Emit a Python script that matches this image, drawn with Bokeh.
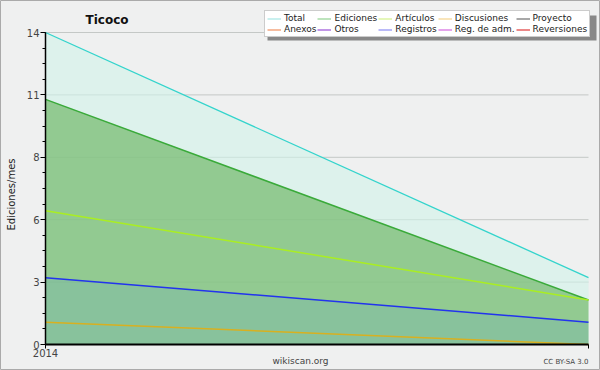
import math
import numpy as np
from bokeh.plotting import figure
from bokeh.models import (Range1d, FixedTicker, CustomJSTickFormatter, Label, Legend,
                          LegendItem, BoxAnnotation, ColumnDataSource)
from bokeh.embed import file_html
from bokeh.resources import INLINE

# ---- data ----
months = ["2014-01", "2014-02"]
total = [14, 3]
ediciones = [11, 2]
articulos = [6, 2]
registros = [3, 1]
discusiones = [1, 0]

y_ticks = [0, 2.8, 5.6, 8.4, 11.2, 14]
y_minor = [round(i * 0.7, 2) for i in range(21)]
x_tick_labels = {0: "2014", 1: ""}

legend_names = ["Total", "Ediciones", "Artículos", "Discusiones", "Proyecto",
                "Anexos", "Otros", "Registros", "Reg. de adm.", "Reversiones"]
legend_colors = ["#a6e6e4", "#92d292", "#d4f28c", "#f6d48e", "#6e6e6e",
                 "#f09060", "#9a50d8", "#8c8cf4", "#d468e0", "#e03a3a"]

# ---- layout (pixels of the 600x370 canvas) ----
W, H = 600, 370
PL, PR, PT, PB = 45, 588, 32, 344   # plot rectangle

x = list(range(len(months)))
y_max = max(total)
sx = (PR - PL) / (x[-1] - x[0])
sy = (PB - PT) / y_max
x_range = Range1d(x[0] - PL / sx, x[-1] + (W - PR) / sx)
y_range = Range1d(-(H - PB) / sy, y_max + PT / sy)

src = ColumnDataSource(dict(x=x, total=total, ediciones=ediciones, articulos=articulos,
                            registros=registros, discusiones=discusiones,
                            zero=[0] * len(x)))

p = figure(width=W, height=H, output_backend="svg", toolbar_location=None,
           x_range=x_range, y_range=y_range,
           min_border=0, min_border_left=0, min_border_right=0,
           min_border_top=0, min_border_bottom=0)
p.background_fill_color = "#eff0f0"
p.border_fill_color = "#eff0f0"
p.outline_line_color = "#aaaaaa"
p.outline_line_width = 1

p.xgrid.visible = False
p.ygrid.visible = False

# axes (positioned at the data origin)
p.yaxis.fixed_location = x[0]
p.yaxis.bounds = (0, y_max)
p.yaxis.ticker = FixedTicker(ticks=y_ticks, minor_ticks=y_minor)
p.yaxis.formatter = CustomJSTickFormatter(code="return Math.round(tick).toString()")
p.yaxis.axis_line_color = "black"
p.yaxis.axis_line_width = 1.5
p.yaxis.major_tick_line_color = "black"
p.yaxis.minor_tick_line_color = "black"
p.yaxis.major_tick_out = 5
p.yaxis.major_tick_in = 0
p.yaxis.minor_tick_out = 3
p.yaxis.minor_tick_in = 0
p.yaxis.major_label_standoff = 1
p.yaxis.major_label_text_font = "DejaVu Sans"
p.yaxis.major_label_text_font_size = "10px"
p.yaxis.major_label_text_color = "#444444"

p.xaxis.fixed_location = 0
p.xaxis.bounds = (x[0], x[-1])
p.xaxis.ticker = FixedTicker(ticks=x)
p.xaxis.major_label_overrides = x_tick_labels
p.xaxis.axis_line_color = "black"
p.xaxis.axis_line_width = 2
p.xaxis.major_tick_line_color = "black"
p.xaxis.major_tick_out = 4
p.xaxis.major_tick_in = 0
p.xaxis.minor_tick_line_color = None
p.xaxis.major_label_standoff = 0
p.xaxis.major_label_text_font = "DejaVu Sans"
p.xaxis.major_label_text_font_size = "10px"
p.xaxis.major_label_text_color = "#444444"

# horizontal grid lines over the data span
p.segment(x0=[x[0]] * len(y_ticks), x1=[x[-1]] * len(y_ticks), y0=y_ticks, y1=y_ticks,
          line_color="#c4c8c6", line_width=1)

# areas
p.varea(x="x", y1="zero", y2="total", source=src, fill_color="#d0f4e9", fill_alpha=0.6)
p.varea(x="x", y1="zero", y2="ediciones", source=src, fill_color="#72b96b", fill_alpha=0.7)
p.varea(x="x", y1="zero", y2="registros", source=src, fill_color="#4488ee", fill_alpha=0.12)

# lines
p.line(x="x", y="total", source=src, line_color="#33d4cc", line_width=1.3)
p.line(x="x", y="ediciones", source=src, line_color="#3aaa3a", line_width=1.5)
p.line(x="x", y="articulos", source=src, line_color="#aaee22", line_width=1.5)
p.line(x="x", y="registros", source=src, line_color="#2233ee", line_width=1.5)
p.line(x="x", y="discusiones", source=src, line_color="#d8b020", line_width=1.5)

# legend (shadow + box); screen units measured from the canvas bottom-left
shadow = BoxAnnotation(left=267, right=596, top=H - 15, bottom=H - 40,
                       left_units="screen", right_units="screen",
                       top_units="screen", bottom_units="screen",
                       fill_color="#888888", fill_alpha=1, line_color=None)
p.add_layout(shadow)

items = []
for name, col in zip(legend_names, legend_colors):
    r = p.line(x=np.array([np.nan]), y=np.array([np.nan]), line_color=col, line_width=1.2)
    items.append(LegendItem(label=name, renderers=[r]))
legend = Legend(items=items, orientation="horizontal", ncols=5,
                location=(264, H - 37))
legend.background_fill_color = "white"
legend.background_fill_alpha = 1
legend.border_line_color = "#999999"
legend.border_line_width = 1
legend.label_text_font = "DejaVu Sans"
legend.label_text_font_size = "9px"
legend.label_text_color = "#222222"
legend.glyph_width = 14
legend.glyph_height = 9
legend.label_height = 9
legend.label_standoff = 3
legend.spacing = 1
legend.padding = 2
legend.margin = 0
p.add_layout(legend, "center")

# texts
p.add_layout(Label(x=85, y=H - 19, x_units="screen", y_units="screen", text="Ticoco",
                   text_font="DejaVu Sans", text_font_style="bold", text_font_size="12px",
                   text_baseline="middle", text_color="#111111"))
p.add_layout(Label(x=11, y=H - 194, x_units="screen", y_units="screen", text="Ediciones/mes",
                   angle=math.pi / 2, text_align="center", text_baseline="middle",
                   text_font="DejaVu Sans", text_font_size="10px", text_color="#222222"))
p.add_layout(Label(x=300, y=H - 360, x_units="screen", y_units="screen", text="wikiscan.org",
                   text_align="center", text_baseline="middle",
                   text_font="DejaVu Sans", text_font_size="9px", text_color="#444444"))
p.add_layout(Label(x=588, y=H - 361, x_units="screen", y_units="screen", text="CC BY-SA 3.0",
                   text_align="right", text_baseline="middle",
                   text_font="DejaVu Sans", text_font_size="7px", text_color="#444444"))

open("out.html", "w").write(file_html(p, INLINE))
